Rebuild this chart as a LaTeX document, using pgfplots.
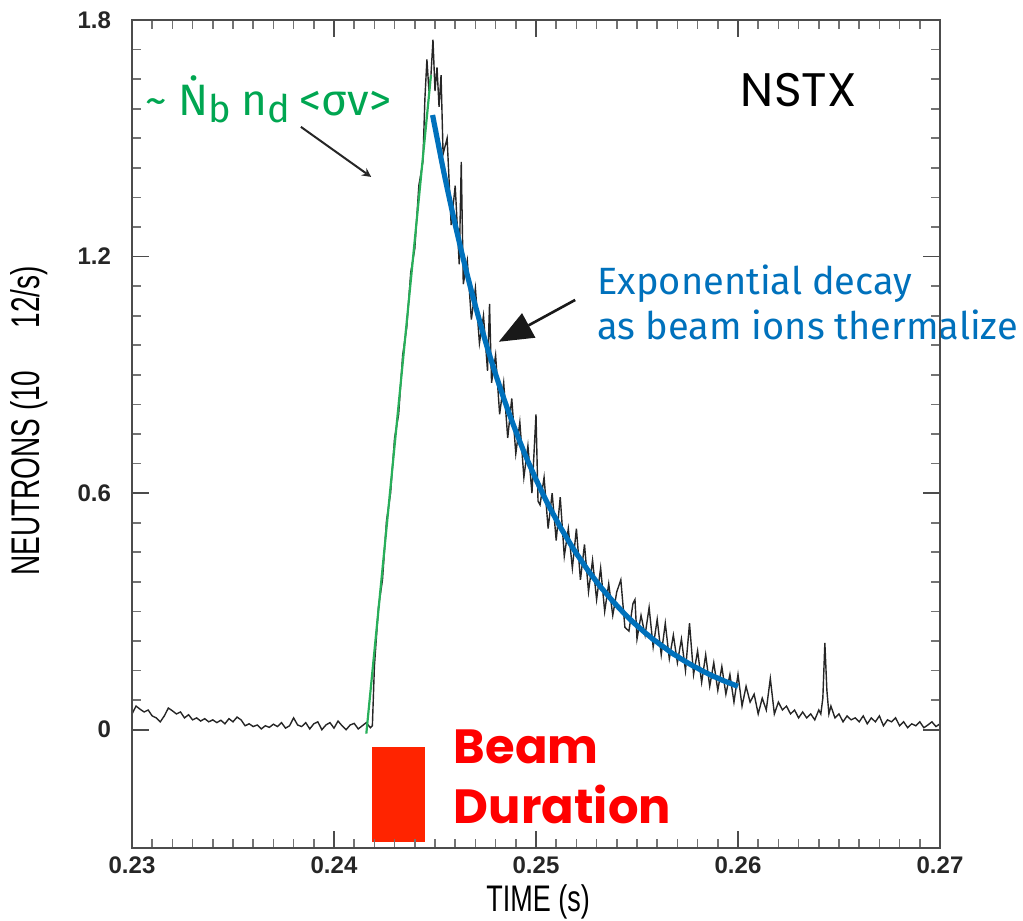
\documentclass[border=0pt]{standalone}
\usepackage{fontspec}
\setmainfont{Liberation Sans}
\newfontfamily\poppins{Poppins}
\newfontfamily\fira{Fira Sans}
\usepackage{pgfplots}
\pgfplotsset{compat=1.18}
\definecolor{ngreen}{RGB}{0,166,81}
\definecolor{lgreen}{RGB}{40,175,90}
\definecolor{nblue}{RGB}{0,113,188}
\definecolor{rbox}{RGB}{255,36,0}
\definecolor{rtext}{RGB}{255,0,0}
\begin{document}
\begin{tikzpicture}
\begin{axis}[
  scale only axis, width=404pt, height=414pt,
  xmin=0.23, xmax=0.27, ymin=-0.3, ymax=1.8,
  xtick={0.23,0.24,0.25,0.26,0.27},
  ytick={0,0.6,1.2,1.8},
  minor x tick num=9, minor y tick num=7,
  tick align=inside, xtick pos=both, ytick pos=both,
  major tick length=8.5pt, minor tick length=4.5pt,
  every tick/.style={black!70, line width=0.9pt},
  every minor tick/.style={black!55, line width=0.8pt},
  axis line style={black!70, line width=1pt},
  axis on top=true,
  /pgf/number format/assume math mode=true,
  /pgf/number format/fixed,
  /pgf/number format/precision=2,
  tick label style={font=\fontsize{12}{14}\selectfont\bfseries, text=black!85},
  yticklabel style={xshift=-7pt},
  xticklabel style={yshift=-1pt},
  clip=false,
]
% beam duration bar
\addplot[fill=rbox, draw=none] coordinates {(0.2419,-0.043) (0.2445,-0.043) (0.2445,-0.284) (0.2419,-0.284)} -- cycle;
% measured neutron rate
\addplot[black!85, line width=0.7pt] coordinates {
(0.2300,0.040) (0.2302,0.060) (0.2304,0.052) (0.2306,0.045) (0.2308,0.050) (0.2310,0.035)
(0.2312,0.030) (0.2314,0.020) (0.2316,0.035) (0.2318,0.055) (0.2320,0.048) (0.2322,0.040)
(0.2324,0.045) (0.2326,0.030) (0.2328,0.038) (0.2330,0.025) (0.2332,0.030) (0.2334,0.022)
(0.2336,0.028) (0.2338,0.020) (0.2340,0.025) (0.2342,0.018) (0.2344,0.024) (0.2346,0.015)
(0.2348,0.028) (0.2350,0.020) (0.2352,0.032) (0.2354,0.025) (0.2356,0.010) (0.2358,0.015)
(0.2360,0.008) (0.2362,0.012) (0.2364,0.002) (0.2366,0.010) (0.2368,0.006) (0.2370,0.014)
(0.2372,0.008) (0.2374,0.018) (0.2376,0.004) (0.2378,0.010) (0.2380,0.030) (0.2382,0.012)
(0.2384,0.008) (0.2386,0.018) (0.2388,0.002) (0.2390,0.015) (0.2392,0.020) (0.2394,0.000)
(0.2396,0.012) (0.2398,0.018) (0.2400,0.004) (0.2402,0.022) (0.2404,0.010) (0.2406,0.000)
(0.2408,0.012) (0.2410,0.016) (0.2412,0.002) (0.2414,0.010) (0.2416,0.018) (0.2418,0.005)
(0.2419,0.010) (0.2420,0.16) (0.2422,0.31) (0.2424,0.38) (0.2426,0.53) (0.2428,0.60)
(0.2430,0.74) (0.2432,0.80) (0.2434,0.95) (0.2436,1.02) (0.2438,1.16) (0.2440,1.22)
(0.2442,1.38) (0.2444,1.44) (0.2445,1.60) (0.2446,1.70) (0.2447,1.62) (0.2448,1.66)
(0.2449,1.75) (0.2450,1.62) (0.2451,1.68) (0.2452,1.58) (0.2453,1.66) (0.2454,1.46)
(0.2456,1.50) (0.2458,1.28) (0.2460,1.38) (0.2462,1.18) (0.2463,1.44) (0.2464,1.13)
(0.2466,1.19) (0.2468,1.04) (0.2470,1.12) (0.2472,0.98) (0.2474,1.05) (0.2476,0.91)
(0.2477,1.08) (0.2478,0.88) (0.2480,0.95) (0.2482,0.80) (0.2484,0.88) (0.2486,0.74)
(0.2488,0.84) (0.2490,0.70) (0.2492,0.78) (0.2494,0.64) (0.2496,0.72) (0.2498,0.60)
(0.2500,0.80) (0.2501,0.58) (0.2502,0.57) (0.2504,0.64) (0.2506,0.51) (0.2508,0.60)
(0.2510,0.48) (0.2512,0.59) (0.2514,0.44) (0.2516,0.51) (0.2518,0.41) (0.2520,0.51)
(0.2522,0.38) (0.2524,0.47) (0.2526,0.35) (0.2528,0.43) (0.2530,0.33) (0.2532,0.41)
(0.2534,0.30) (0.2536,0.37) (0.2538,0.29) (0.2540,0.35) (0.2542,0.38) (0.2544,0.26)
(0.2546,0.25) (0.2548,0.32) (0.2549,0.33) (0.2550,0.23) (0.2552,0.29) (0.2554,0.24)
(0.2556,0.31) (0.2558,0.21) (0.2560,0.28) (0.2562,0.19) (0.2564,0.27) (0.2566,0.18)
(0.2568,0.24) (0.2570,0.17) (0.2572,0.23) (0.2574,0.15) (0.2576,0.27) (0.2578,0.14)
(0.2580,0.20) (0.2582,0.12) (0.2584,0.19) (0.2586,0.11) (0.2588,0.17) (0.2590,0.10)
(0.2592,0.16) (0.2594,0.09) (0.2596,0.14) (0.2598,0.07) (0.2600,0.14) (0.2602,0.06)
(0.2604,0.11) (0.2606,0.07) (0.2608,0.09) (0.2610,0.04) (0.2612,0.08) (0.2614,0.05)
(0.2616,0.13) (0.2618,0.04) (0.2620,0.07) (0.2622,0.05) (0.2624,0.06) (0.2626,0.04)
(0.2628,0.05) (0.2630,0.03) (0.2632,0.045) (0.2634,0.03) (0.2636,0.04) (0.2638,0.025)
(0.2640,0.05) (0.2641,0.04) (0.2642,0.08) (0.2643,0.22) (0.2644,0.10) (0.2645,0.04)
(0.2646,0.06) (0.2648,0.03) (0.2650,0.04) (0.2652,0.02) (0.2654,0.035) (0.2656,0.025)
(0.2658,0.03) (0.2660,0.02) (0.2662,0.035) (0.2664,0.015) (0.2666,0.03) (0.2668,0.02)
(0.2670,0.035) (0.2672,0.01) (0.2674,0.025) (0.2676,0.02) (0.2678,0.03) (0.2680,0.01)
(0.2682,0.02) (0.2684,0.005) (0.2686,0.015) (0.2688,0.01) (0.2690,0.02) (0.2692,0.005)
(0.2694,0.012) (0.2696,0.02) (0.2698,0.008) (0.2700,0.015)
};
% linear rise fit
\addplot[lgreen, line width=1.1pt] coordinates {(0.2416,-0.01) (0.2448,1.66)};
% exponential decay fit
\addplot[nblue, line width=2.6pt] coordinates {
(0.24488,1.559) (0.2454,1.423) (0.2456,1.374) (0.2458,1.327) (0.2460,1.281) (0.2462,1.237)
(0.2464,1.194) (0.2466,1.153) (0.2468,1.113) (0.2470,1.075) (0.2472,1.038) (0.2474,1.002)
(0.2476,0.967) (0.2478,0.934) (0.2480,0.902) (0.2482,0.871) (0.2484,0.841) (0.2486,0.812)
(0.2488,0.784) (0.2490,0.757) (0.2492,0.731) (0.2494,0.705) (0.2496,0.681) (0.2498,0.658)
(0.2500,0.635) (0.2502,0.613) (0.2504,0.592) (0.2506,0.571) (0.2508,0.552) (0.2510,0.533)
(0.2512,0.514) (0.2514,0.497) (0.2516,0.480) (0.2518,0.463) (0.2520,0.447) (0.2522,0.432)
(0.2524,0.417) (0.2526,0.402) (0.2528,0.389) (0.2530,0.375) (0.2532,0.362) (0.2534,0.350)
(0.2536,0.338) (0.2538,0.326) (0.2540,0.315) (0.2542,0.304) (0.2544,0.293) (0.2546,0.283)
(0.2548,0.273) (0.2550,0.264) (0.2552,0.255) (0.2554,0.246) (0.2556,0.238) (0.2558,0.229)
(0.2560,0.222) (0.2562,0.214) (0.2564,0.207) (0.2566,0.199) (0.2568,0.192) (0.2570,0.186)
(0.2572,0.179) (0.2574,0.173) (0.2576,0.167) (0.2578,0.161) (0.2580,0.156) (0.2582,0.150)
(0.2584,0.145) (0.2586,0.140) (0.2588,0.135) (0.2590,0.131) (0.2592,0.126) (0.2594,0.122)
(0.2596,0.118) (0.2598,0.114) (0.2600,0.110)
};
% annotations
\draw[black!85, line width=1pt, -stealth] (axis cs:0.23836,1.529) -- (axis cs:0.24184,1.402);
\draw[black!90, line width=1.3pt] (axis cs:0.25194,1.090) -- ([xshift=14.9pt,yshift=8.2pt]axis cs:0.24816,0.984);
\fill[black!90] (axis cs:0.24816,0.984) -- ([xshift=11.6pt,yshift=14.3pt]axis cs:0.24816,0.984) -- ([xshift=18.3pt,yshift=2.0pt]axis cs:0.24816,0.984) -- cycle;
\node[anchor=west, inner sep=0pt, text=ngreen] at (axis cs:0.23065,1.60)
  {\fira\fontsize{22}{26}\selectfont \textasciitilde\ \.{N}\raisebox{-0.3ex}{\fontsize{19}{19}\selectfont b}\hspace{5pt}n\raisebox{-0.3ex}{\fontsize{19}{19}\selectfont d}\hspace{5pt}<σv>};
\node[anchor=base west, inner sep=0pt, text=nblue] at (axis cs:0.25303,1.105)
  {\fira\fontsize{19}{23}\selectfont Exponential decay};
\node[anchor=base west, inner sep=0pt, text=nblue] at (axis cs:0.25303,0.989)
  {\fira\fontsize{19}{23}\selectfont as beam ions thermalize};
\node[anchor=center, inner sep=0pt] at (axis cs:0.26300,1.623)
  {\poppins\fontsize{23.5}{27}\selectfont NSTX};
\node[anchor=base west, inner sep=0pt, text=rtext] at (axis cs:0.24592,-0.086)
  {\poppins\bfseries\fontsize{24}{28}\selectfont Beam};
\node[anchor=base west, inner sep=0pt, text=rtext] at (axis cs:0.24592,-0.238)
  {\poppins\bfseries\fontsize{24}{28}\selectfont Duration};
\node[rotate=90, inner sep=0pt, text=black] at (axis cs:0.22493,0.783)
  {\scalebox{0.7}[1]{\fontsize{20}{24}\selectfont NEUTRONS (10\hspace{30pt}12/s)}};
\node[inner sep=0pt, text=black] at (axis cs:0.2501,-0.437)
  {\scalebox{0.73}[1]{\fontsize{18.5}{22}\selectfont TIME (s)}};
\path ([xshift=-66pt,yshift=-36.5pt]rel axis cs:0,0) rectangle ([xshift=41.5pt,yshift=10pt]rel axis cs:1,1);
\end{axis}
\end{tikzpicture}
\end{document}
